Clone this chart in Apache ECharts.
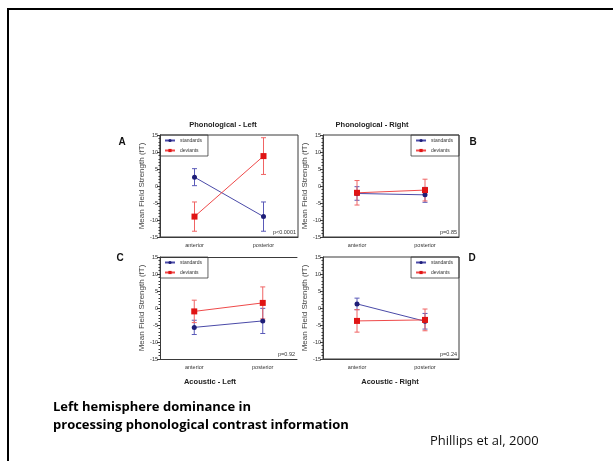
<!DOCTYPE html>
<html>
<head>
<meta charset="utf-8">
<script src="https://cdn.jsdelivr.net/npm/echarts@6/dist/echarts.min.js"></script>
<style>
  html, body { margin: 0; padding: 0; background: #fff; }
  #chart { width: 613px; height: 461px; }
</style>
</head>
<body>
<div id="chart"></div>
<script>
// Electrode sites on the x axis
const categories = ['anterior', 'posterior'];
const yTicks = [-15, 15, 5]; // min, max, step

// Phonological - Left (A)
const stdA = [2.6, -9.0];
const stdErrA = [2.5, 4.3];
const devA = [-9.0, 8.8];
const devErrA = [4.3, 5.4];

// Phonological - Right (B)
const stdB = [-2.2, -2.6];
const stdErrB = [2.0, 2.2];
const devB = [-2.0, -1.2];
const devErrB = [3.6, 3.2];

// Acoustic - Left (C)
const stdC = [-5.7, -3.8];
const stdErrC = [2.1, 3.7];
const devC = [-1.0, 1.5];
const devErrC = [3.3, 4.7];

// Acoustic - Right (D)
const stdD = [1.2, -3.9];
const stdErrD = [1.7, 2.3];
const devD = [-3.8, -3.5];
const devErrD = [3.3, 3.2];

const panelLetters = ['A', 'B', 'C', 'D'];
const panelTitles = ['Phonological - Left', 'Phonological - Right', 'Acoustic - Left', 'Acoustic - Right'];
const pValues = ['p<0.0001', 'p=0.85', 'p=0.92', 'p=0.24'];
const seriesNames = ['standards', 'deviants'];
const yAxisName = 'Mean Field Strength (fT)';

const panels = [
  { std: stdA, stdErr: stdErrA, dev: devA, devErr: devErrA },
  { std: stdB, stdErr: stdErrB, dev: devB, devErr: devErrB },
  { std: stdC, stdErr: stdErrC, dev: devC, devErr: devErrC },
  { std: stdD, stdErr: stdErrD, dev: devD, devErr: devErrD }
];

const AXIS = '#3a3a3a';
const TXT = '#333';
const BLUE_LINE = '#4a4aa8', BLUE_MARK = '#1e1e78', BLUE_ERR = '#5a5ab8';
const RED_LINE = '#ef4a4a', RED_MARK = '#e01414', RED_ERR = '#f06464';
const W = 613;

const grids = [
  { left: 160, top: 135, width: 138, height: 102, show: true, borderColor: AXIS, borderWidth: 1 },
  { left: 323, top: 135, width: 136, height: 102, show: true, borderColor: AXIS, borderWidth: 1 },
  { left: 160, top: 257, width: 137, height: 102 },
  { left: 323, top: 257, width: 136, height: 102, show: true, borderColor: AXIS, borderWidth: 1 }
];

const xAxes = [], yAxes = [], series = [], legends = [];

function errorBars(params, api) {
  const x = api.value(0);
  const lo = api.coord([x, api.value(1)]);
  const hi = api.coord([x, api.value(2)]);
  const cap = 2.5;
  const style = { stroke: api.visual('color'), lineWidth: 1 };
  return {
    type: 'group',
    children: [
      { type: 'line', shape: { x1: lo[0], y1: lo[1], x2: hi[0], y2: hi[1] }, style },
      { type: 'line', shape: { x1: hi[0] - cap, y1: hi[1], x2: hi[0] + cap, y2: hi[1] }, style },
      { type: 'line', shape: { x1: lo[0] - cap, y1: lo[1], x2: lo[0] + cap, y2: lo[1] }, style }
    ]
  };
}

panels.forEach((p, i) => {
  xAxes.push({
    type: 'category', gridIndex: i, data: categories, boundaryGap: true,
    axisLine: { onZero: false, lineStyle: { color: AXIS, width: 1 } },
    axisTick: { inside: true, length: 2.5, lineStyle: { color: AXIS } },
    axisLabel: { fontSize: 5.5, color: TXT, margin: 5, fontFamily: 'Liberation Sans' }
  });
  yAxes.push({
    type: 'value', gridIndex: i, min: yTicks[0], max: yTicks[1], interval: yTicks[2],
    name: yAxisName, nameLocation: 'middle', nameGap: 14,
    nameTextStyle: { fontSize: 8, color: '#444', fontFamily: 'Liberation Sans' },
    axisLine: { show: true, lineStyle: { color: AXIS, width: 1 } },
    axisTick: { show: true, length: 3, lineStyle: { color: AXIS } },
    minorTick: { show: true, splitNumber: 5, length: 1.5, lineStyle: { color: AXIS } },
    splitLine: { show: false },
    axisLabel: { fontSize: 5.5, color: TXT, margin: 2, fontFamily: 'Liberation Sans' }
  });

  const sets = [
    { name: seriesNames[0], v: p.std, e: p.stdErr, line: BLUE_LINE, mark: BLUE_MARK, err: BLUE_ERR, sym: 'circle', size: 5 },
    { name: seriesNames[1], v: p.dev, e: p.devErr, line: RED_LINE, mark: RED_MARK, err: RED_ERR, sym: 'rect', size: 6 }
  ];
  sets.forEach(s => {
    series.push({
      type: 'custom', name: s.name + ' SE', xAxisIndex: i, yAxisIndex: i, z: 2,
      itemStyle: { color: s.err },
      renderItem: errorBars,
      encode: { x: 0, y: [1, 2] },
      data: categories.map((c, k) => [k, s.v[k] - s.e[k], s.v[k] + s.e[k]])
    });
  });
  sets.forEach(s => {
    series.push({
      type: 'line', name: s.name, xAxisIndex: i, yAxisIndex: i, z: 3,
      symbol: s.sym, symbolSize: s.size, showSymbol: true,
      lineStyle: { color: s.line, width: 1 },
      itemStyle: { color: s.mark },
      data: s.v
    });
  });

  const g = grids[i];
  const onRight = (i === 1 || i === 3);
  const pos = onRight ? { right: W - (g.left + g.width) } : { left: g.left };
  legends.push(Object.assign(pos, {
    data: seriesNames, orient: 'vertical',
    top: g.top,
    borderColor: AXIS, borderWidth: 0.8,
    padding: [3, 6, 3, 4], itemGap: 5, itemWidth: 10, itemHeight: 4,
    textStyle: { fontSize: 5, color: TXT, fontFamily: 'Liberation Sans' },
    selectedMode: false
  }));
});

// top edge of the Acoustic - Left frame
xAxes.push({
  type: 'category', gridIndex: 2, position: 'top', data: categories,
  axisLine: { onZero: false, lineStyle: { color: AXIS, width: 1 } },
  axisTick: { show: false }, axisLabel: { show: false }
});

const graphics = [
  // slide outline
  { type: 'rect', shape: { x: 8, y: 9, width: 700, height: 600 }, style: { fill: null, stroke: '#000', lineWidth: 2 } }
];

const titlePos = [[223, 125], [372, 125], [210, 382], [390, 382]];
const letterPos = [[122, 142], [473, 142], [120, 258], [472, 258]];
panels.forEach((p, i) => {
  const g = grids[i];
  graphics.push({
    type: 'text', x: titlePos[i][0], y: titlePos[i][1],
    style: { text: panelTitles[i], font: 'bold 7.5px "Liberation Sans"', fill: '#222', textAlign: 'center', textVerticalAlign: 'middle' }
  });
  graphics.push({
    type: 'text', x: letterPos[i][0], y: letterPos[i][1],
    style: { text: panelLetters[i], font: 'bold 10px "Liberation Sans"', fill: '#111', textAlign: 'center', textVerticalAlign: 'middle' }
  });
  graphics.push({
    type: 'text', x: g.left + g.width - 2, y: g.top + g.height - 5,
    style: { text: pValues[i], font: '5.5px "Liberation Sans"', fill: TXT, textAlign: 'right', textVerticalAlign: 'middle' }
  });
});

graphics.push({
  type: 'text', x: 53, y: 407,
  style: { text: 'Left hemisphere dominance in', font: 'bold 13px "Open Sans"', fill: '#000', textAlign: 'left', textVerticalAlign: 'middle' }
});
graphics.push({
  type: 'text', x: 53, y: 425,
  style: { text: 'processing phonological contrast information', font: 'bold 13px "Open Sans"', fill: '#000', textAlign: 'left', textVerticalAlign: 'middle' }
});
graphics.push({
  type: 'text', x: 430, y: 441,
  style: { text: 'Phillips et al, 2000', font: '13px "Open Sans"', fill: '#111', textAlign: 'left', textVerticalAlign: 'middle' }
});

const chart = echarts.init(document.getElementById('chart'), null, { renderer: 'canvas' });
chart.setOption({
  animation: false,
  backgroundColor: '#fff',
  grid: grids,
  xAxis: xAxes,
  yAxis: yAxes,
  legend: legends,
  series: series,
  graphic: graphics
});
</script>
</body>
</html>
